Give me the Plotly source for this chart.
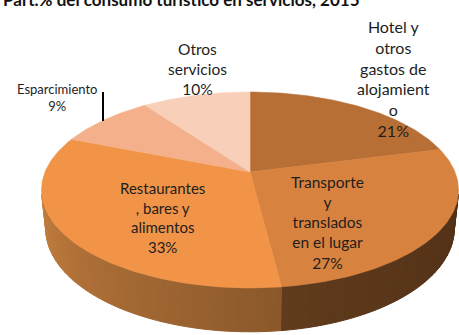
import math
import plotly.graph_objects as go

# ---- data -------------------------------------------------------------
categories = [
    "Hotel y otros gastos de alojamiento",
    "Transporte y translados en el lugar",
    "Restaurantes, bares y alimentos",
    "Esparcimiento",
    "Otros servicios",
]
shares = [21, 27, 33, 9, 10]
# wrapped label text as it appears on the chart
label_lines = [
    ["Hotel y", "otros", "gastos de", "alojamient", "o"],
    ["Transporte", "y", "translados", "en el lugar"],
    ["Restaurantes", ", bares y", "alimentos"],
    ["Esparcimiento"],
    ["Otros", "servicios"],
]
title_text = "Part.% del consumo turístico en servicios, 2015"

# ---- styling ----------------------------------------------------------
W, H = 459, 335
top_colors = ["#B76F35", "#D8823F", "#F29447", "#F4B08A", "#F8CFB9"]
# wall colours at the two ends of each slice's visible side (start angle, end angle)
wall_colors = [
    ("#6A4020", "#6A4020"),
    ("#4A2B14", "#603B1C"),
    ("#8A582B", "#DA8C45"),
    ("#D99A70", "#D99A70"),
    ("#E0B49A", "#E0B49A"),
]
label_pos = [(393, 78), (327, 222), (162, 217), (57, 97), (197, 69)]
label_size = [16, 15.5, 15, 13, 15.5]
FONT = "Lato"

# 3-D view of the pie (perspective camera)
ALPHA = math.radians(27.5)
DIST = 4.83
FOCAL = 990.0
CX, CY = 250.0, 172.0
THICK = 0.215


def project(x, y, z):
    depth = y * math.cos(ALPHA) - z * math.sin(ALPHA) + DIST
    sx = CX + FOCAL * x / depth
    sy = CY - FOCAL * (y * math.sin(ALPHA) + z * math.cos(ALPHA)) / depth
    return sx, sy


def rim(theta_deg, z):
    t = math.radians(theta_deg)
    return project(math.sin(t), math.cos(t), z)


def hex_rgb(h):
    h = h.lstrip("#")
    return tuple(int(h[i:i + 2], 16) for i in (0, 2, 4))


def mix(c1, c2, t):
    a, b = hex_rgb(c1), hex_rgb(c2)
    return "rgb(%d,%d,%d)" % tuple(round(a[i] + (b[i] - a[i]) * t) for i in range(3))


total = sum(shares)
bounds = [0.0]
for v in shares:
    bounds.append(bounds[-1] + 360.0 * v / total)

fig = go.Figure()

# side walls (only the part facing the viewer), drawn as thin shaded strips
cos_lim = -1.0 / (DIST * math.cos(ALPHA))
for i in range(len(shares)):
    a0, a1 = bounds[i], bounds[i + 1]
    steps = max(2, int((a1 - a0) / 1.5))
    for k in range(steps):
        t0 = a0 + (a1 - a0) * k / steps
        t1 = a0 + (a1 - a0) * (k + 1) / steps
        mid = math.radians((t0 + t1) / 2)
        if math.cos(mid) >= cos_lim + 0.02:
            continue
        p = [rim(t0, 0), rim(t1, 0), rim(t1, -THICK), rim(t0, -THICK)]
        col = mix(wall_colors[i][0], wall_colors[i][1], ((t0 + t1) / 2 - a0) / (a1 - a0))
        fig.add_trace(go.Scatter(
            x=[q[0] for q in p] + [p[0][0]], y=[q[1] for q in p] + [p[0][1]],
            mode="lines", fill="toself", fillcolor=col,
            line=dict(color=col, width=1), hoverinfo="skip", showlegend=False))

# top faces of the slices
for i in range(len(shares)):
    a0, a1 = bounds[i], bounds[i + 1]
    n = max(8, int((a1 - a0) / 1.0))
    pts = [project(0, 0, 0)] + [rim(a0 + (a1 - a0) * k / n, 0) for k in range(n + 1)]
    fig.add_trace(go.Scatter(
        x=[q[0] for q in pts] + [pts[0][0]], y=[q[1] for q in pts] + [pts[0][1]],
        mode="lines", fill="toself", fillcolor=top_colors[i],
        line=dict(color=top_colors[i], width=0.6), name=categories[i],
        hoverinfo="name", showlegend=False))

# data labels
annotations = []
for i, v in enumerate(shares):
    text = "<br>".join(label_lines[i] + [f"{v}%"])
    annotations.append(dict(
        x=label_pos[i][0], y=label_pos[i][1], xref="x", yref="y", text=text,
        showarrow=False, align="center", xanchor="center", yanchor="middle",
        font=dict(family=FONT, size=label_size[i], color="#1E1E1E")))

# chart title, running off the top edge of the page
annotations.append(dict(
    x=181, y=1, xref="x", yref="paper", text="<b>" + title_text + "</b>",
    showarrow=False, xanchor="center", yanchor="middle", yshift=1,
    font=dict(family=FONT, size=17, color="#111111")))

fig.update_layout(
    width=W, height=H,
    margin=dict(l=0, r=0, t=0, b=0),
    paper_bgcolor="white", plot_bgcolor="white",
    xaxis=dict(range=[0, W], visible=False, fixedrange=True),
    yaxis=dict(range=[H, 0], visible=False, fixedrange=True),
    annotations=annotations,
    shapes=[dict(type="line", xref="x", yref="y", x0=103, x1=103, y0=92, y1=121,
                 line=dict(color="black", width=2))],
    showlegend=False,
)

fig.write_html("out.html")
